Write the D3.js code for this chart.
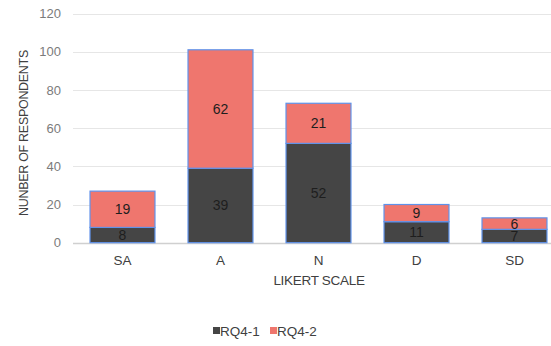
<!DOCTYPE html>
<html>
<head>
<meta charset="utf-8">
<script src="https://cdn.jsdelivr.net/npm/d3@7"></script>
<style>
  html, body { margin: 0; padding: 0; background: #fff; }
  svg { display: block; font-family: "Liberation Sans", Arial, sans-serif; }
</style>
</head>
<body>
<svg id="chart" width="551" height="346"></svg>
<script>
// Likert categories and respondent counts per research question
const categories = ["SA", "A", "N", "D", "SD"];
const rq41 = [8, 39, 52, 11, 7];
const rq42 = [19, 62, 21, 9, 6];
const seriesNames = ["RQ4-1", "RQ4-2"];
const yTicks = [0, 20, 40, 60, 80, 100, 120];

const colors = { "RQ4-1": "#454545", "RQ4-2": "#ef766e" };
const outline = "#5f92ea";

const svg = d3.select("#chart");

const x = d3.scaleBand().domain(categories).range([73.5, 563.5]).paddingInner(0.327).paddingOuter(0.1635);
const y = d3.scaleLinear().domain([0, 120]).range([242.7, 13.5]);

// horizontal grid lines
svg.append("g")
  .selectAll("line")
  .data(yTicks)
  .join("line")
  .attr("x1", 73).attr("x2", 551)
  .attr("y1", d => Math.round(y(d)) + 0.5).attr("y2", d => Math.round(y(d)) + 0.5)
  .attr("stroke", d => d === 0 ? "#d0d0d0" : "#e6e6e6")
  .attr("stroke-width", d => d === 0 ? 1.5 : 1);

// y axis tick labels
const yAxis = d3.axisLeft(y).tickValues(yTicks).tickSize(0).tickPadding(0);
const gy = svg.append("g").attr("transform", "translate(61,0)").call(yAxis);
gy.select(".domain").remove();
gy.selectAll("text").attr("fill", "#7b7b7b").attr("font-size", 13).attr("font-family", "Liberation Sans, Arial, sans-serif");

// stacked series
const rows = categories.map((c, i) => ({ cat: c, "RQ4-1": rq41[i], "RQ4-2": rq42[i] }));
const stacked = d3.stack().keys(seriesNames)(rows);

const layers = svg.append("g").selectAll("g")
  .data(stacked)
  .join("g")
  .attr("fill", d => colors[d.key]);

layers.selectAll("rect")
  .data(d => d)
  .join("rect")
  .attr("x", d => x(d.data.cat) + 0.5)
  .attr("y", d => y(d[1]))
  .attr("width", x.bandwidth() - 1)
  .attr("height", d => y(d[0]) - y(d[1]))
  .attr("stroke", outline)
  .attr("stroke-width", 1.2);

// value labels centred in each segment
layers.selectAll("text")
  .data(d => d)
  .join("text")
  .attr("x", d => x(d.data.cat) + x.bandwidth() / 2)
  .attr("y", d => (y(d[0]) + y(d[1])) / 2)
  .attr("dy", "0.36em")
  .attr("text-anchor", "middle")
  .attr("font-size", 14)
  .attr("fill", "#1e1e1e")
  .text(d => d[1] - d[0]);

// x axis category labels
const xAxis = d3.axisBottom(x).tickSize(0).tickPadding(0);
const gx = svg.append("g").attr("transform", "translate(0,255.5)").call(xAxis);
gx.select(".domain").remove();
gx.selectAll("text").attr("fill", "#404040").attr("font-size", 13.5).attr("font-family", "Liberation Sans, Arial, sans-serif");

// axis titles
svg.append("text")
  .attr("x", 319).attr("y", 284.5)
  .attr("text-anchor", "middle")
  .attr("font-size", 13.5)
  .attr("letter-spacing", -0.3)
  .attr("fill", "#404040")
  .text("LIKERT SCALE");

svg.append("text")
  .attr("transform", "translate(28,133) rotate(-90)")
  .attr("text-anchor", "middle")
  .attr("font-size", 12.5)
  .attr("letter-spacing", -0.3)
  .attr("fill", "#404040")
  .text("NUNBER OF RESPONDENTS");

// legend
const legend = svg.append("g").attr("transform", "translate(213,331)");
const items = legend.selectAll("g")
  .data(seriesNames)
  .join("g")
  .attr("transform", (d, i) => `translate(${i * 57},0)`);
items.append("rect")
  .attr("x", 0).attr("y", -4)
  .attr("width", 7).attr("height", 7)
  .attr("fill", d => colors[d]);
items.append("text")
  .attr("x", 7).attr("y", 0)
  .attr("dy", "0.36em")
  .attr("font-size", 13.5)
  .attr("fill", "#404040")
  .text(d => d);
</script>
</body>
</html>
